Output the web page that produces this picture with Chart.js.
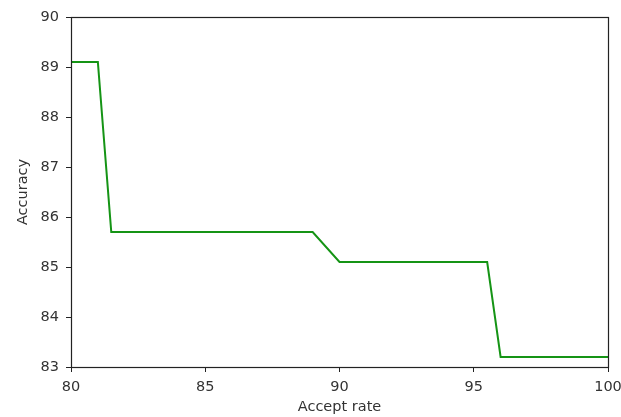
<!DOCTYPE html>
<html>
<head>
<meta charset="utf-8">
<script src="https://cdn.jsdelivr.net/npm/chart.js@4/dist/chart.umd.min.js"></script>
<style>
  html, body { margin: 0; padding: 0; background: #fff; }
  #wrap { width: 621px; height: 417px; position: relative; }
</style>
</head>
<body>
<div id="wrap"><canvas id="accChart"></canvas></div>
<script>
  // accept rate (%) vs accuracy (%)
  const acceptRate = [80, 81, 81.5, 89, 90, 95.5, 96, 100];
  const accuracy   = [89.1, 89.1, 85.7, 85.7, 85.1, 85.1, 83.2, 83.2];
  const xTicks = [80, 85, 90, 95, 100];
  const yTicks = [83, 84, 85, 86, 87, 88, 89, 90];

  const font = { family: 'DejaVu Sans', size: 14.5 };
  const textColor = '#333333';

  // matplotlib-style box around the plot area
  const frame = {
    id: 'frame',
    afterDraw(chart) {
      const a = chart.chartArea, ctx = chart.ctx;
      ctx.save();
      ctx.strokeStyle = '#222';
      ctx.lineWidth = 1.2;
      ctx.strokeRect(Math.round(a.left) + 0.5, Math.round(a.top) + 0.5,
                     Math.round(a.right - a.left), Math.round(a.bottom - a.top));
      ctx.restore();
    }
  };

  new Chart(document.getElementById('accChart'), {
    type: 'line',
    data: {
      datasets: [{
        data: acceptRate.map((x, i) => ({ x, y: accuracy[i] })),
        borderColor: '#159415',
        borderWidth: 2,
        pointRadius: 0,
        tension: 0,
        fill: false
      }]
    },
    options: {
      responsive: true,
      maintainAspectRatio: false,
      animation: false,
      layout: { padding: { top: 17, right: 0, left: 0, bottom: 0 } },
      plugins: { legend: { display: false }, tooltip: { enabled: false } },
      scales: {
        x: {
          type: 'linear', min: 80, max: 100,
          afterBuildTicks: (s) => { s.ticks = xTicks.map(v => ({ value: v })); },
          afterFit: (s) => { s.height = 50; s.paddingLeft = 0; s.paddingRight = 13; },
          ticks: { color: textColor, font, padding: 7, maxRotation: 0 },
          grid: { display: true, drawOnChartArea: false, drawTicks: true, tickLength: 5, color: '#222' },
          border: { display: false },
          title: { display: true, text: 'Accept rate', color: textColor, font, padding: { top: 2, bottom: 1 } }
        },
        y: {
          type: 'linear', min: 83, max: 90,
          afterBuildTicks: (s) => { s.ticks = yTicks.map(v => ({ value: v })); },
          afterFit: (s) => { s.width = 71; s.paddingTop = 0; s.paddingBottom = 0; },
          ticks: { color: textColor, font, padding: 7 },
          grid: { display: true, drawOnChartArea: false, drawTicks: true, tickLength: 5, color: '#222' },
          border: { display: false },
          title: { display: true, text: 'Accuracy', color: textColor, font, padding: { top: 15, bottom: 0 } }
        }
      }
    },
    plugins: [frame]
  });
</script>
</body>
</html>
